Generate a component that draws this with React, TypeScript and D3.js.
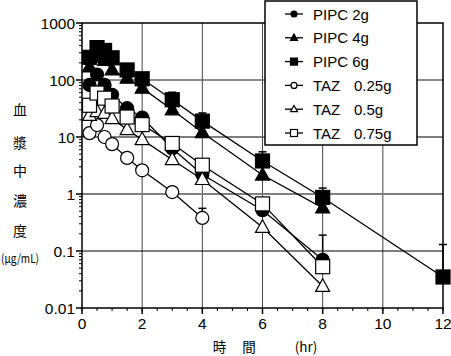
import React from 'react';
import * as d3 from 'd3';

const xTicks = [0, 2, 4, 6, 8, 10, 12];
const xMinorTicks = d3.range(0, 12.01, 0.5);
const yTicks = [0.01, 0.1, 1, 10, 100, 1000];
const yTickLabels = ['0.01', '0.1', '1', '10', '100', '1000'];

const times = [0.25, 0.5, 0.75, 1, 1.5, 2, 3, 4, 6, 8];
const times12 = [0.25, 0.5, 0.75, 1, 1.5, 2, 3, 4, 6, 8, 12];
const times4 = [0.25, 0.5, 0.75, 1, 1.5, 2, 3, 4];

const pipc2 = [82, 125, 82, 55, 32, 22, 6.3, 2.2, 0.52, 0.07];
const pipc4 = [170, 250, 220, 150, 108, 72, 30, 12, 2.15, 0.57];
const pipc6 = [250, 370, 330, 245, 150, 105, 45, 19, 3.8, 0.87, 0.035];
const taz025 = [11.7, 16.2, 10, 7.5, 4.3, 2.6, 1.08, 0.38];
const taz05 = [24, 28, 26, 21, 13.5, 9, 4.0, 1.8, 0.26, 0.024];
const taz075 = [36, 59, 48, 35, 22.4, 16.5, 7.7, 3.2, 0.67, 0.053];

const pipc2Sd = [0, 0, 0, 0, 0, 0, 0, 0, 0, 0.12];
const pipc6Sd = [0, 0, 0, 0, 0, 0, 16, 7.4, 1.7, 0.4, 0.095];
const taz025Sd = [0, 0, 0, 0, 0, 0, 0.25, 0.18];

const seriesNames = ['PIPC 2g', 'PIPC 4g', 'PIPC 6g', 'TAZ', 'TAZ', 'TAZ'];
const seriesDoses = ['', '', '', '0.25g', '0.5g', '0.75g'];

type Series = { name: string; dose: string; t: number[]; v: number[]; sd?: number[]; shape: string; filled: boolean };

const series: Series[] = [
  { name: seriesNames[0], dose: seriesDoses[0], t: times, v: pipc2, sd: pipc2Sd, shape: 'circle', filled: true },
  { name: seriesNames[1], dose: seriesDoses[1], t: times, v: pipc4, shape: 'triangle', filled: true },
  { name: seriesNames[2], dose: seriesDoses[2], t: times12, v: pipc6, sd: pipc6Sd, shape: 'square', filled: true },
  { name: seriesNames[3], dose: seriesDoses[3], t: times4, v: taz025, sd: taz025Sd, shape: 'circle', filled: false },
  { name: seriesNames[4], dose: seriesDoses[4], t: times, v: taz05, shape: 'triangle', filled: false },
  { name: seriesNames[5], dose: seriesDoses[5], t: times, v: taz075, shape: 'square', filled: false },
];

function Marker({ shape, filled, cx, cy, s }: { shape: string; filled: boolean; cx: number; cy: number; s: number }) {
  const fill = filled ? '#000' : '#fff';
  const common = { fill, stroke: '#000', strokeWidth: 1.2 };
  if (shape === 'circle') return <circle cx={cx} cy={cy} r={s / 2} {...common} />;
  if (shape === 'square') return <rect x={cx - s / 2} y={cy - s / 2} width={s} height={s} {...common} />;
  const h = s * 0.9;
  const pts = `${cx},${cy - h * 0.6} ${cx + s / 2},${cy + h * 0.4} ${cx - s / 2},${cy + h * 0.4}`;
  return <polygon points={pts} {...common} />;
}

export default function App() {
  const W = 451, H = 356;
  const x = d3.scaleLinear().domain([0, 12]).range([82, 443]);
  const y = d3.scaleLog().domain([0.01, 1000]).range([308, 23]);
  const line = d3.line<[number, number]>().x(d => x(d[0])).y(d => y(d[1]));

  const minorY: number[] = [];
  for (let e = -2; e < 3; e++) for (let k = 2; k <= 9; k++) minorY.push(k * Math.pow(10, e));

  const gridStyle: Record<string, { stroke: string; w: number }> = {
    '0.1': { stroke: '#000', w: 1 },
    '1': { stroke: '#808080', w: 2 },
    '10': { stroke: '#555', w: 1.3 },
    '100': { stroke: '#666', w: 1.5 },
  };

  const font = 'Liberation Sans, Arial, sans-serif';
  const cjk = 'Noto Sans CJK JP, sans-serif';
  const yTitle = ['血', '漿', '中', '濃', '度'];
  const yTitleY = [110, 143, 171, 201, 231];

  return (
    <svg width={W} height={H} style={{ position: 'absolute', left: 0, top: 0, background: '#fff' }}>
      <rect x={0} y={0} width={W} height={H} fill="#fff" />
      {/* grid */}
      {xTicks.slice(1, -1).map(t => (
        <line key={'gx' + t} x1={x(t)} x2={x(t)} y1={y(1000)} y2={y(0.01)} stroke="#444" strokeWidth={1} />
      ))}
      {yTicks.slice(1, -1).map(t => {
        const g = gridStyle[String(t)];
        return <line key={'gy' + t} x1={x(0)} x2={x(12)} y1={y(t)} y2={y(t)} stroke={g.stroke} strokeWidth={g.w} />;
      })}
      {/* axis ticks */}
      {minorY.map(t => (
        <line key={'my' + t} x1={x(0) - 3} x2={x(0)} y1={y(t)} y2={y(t)} stroke="#000" strokeWidth={1} />
      ))}
      {yTicks.map(t => (
        <line key={'My' + t} x1={x(0) - 6} x2={x(0)} y1={y(t)} y2={y(t)} stroke="#000" strokeWidth={1.5} />
      ))}
      {xMinorTicks.map(t => (
        <line key={'mx' + t} x1={x(t)} x2={x(t)} y1={y(0.01)} y2={y(0.01) + 3} stroke="#000" strokeWidth={1} />
      ))}
      {xTicks.map(t => (
        <line key={'Mx' + t} x1={x(t)} x2={x(t)} y1={y(0.01)} y2={y(0.01) + 6} stroke="#000" strokeWidth={1.5} />
      ))}
      {/* tick labels */}
      {yTicks.map((t, i) => (
        <text key={'yl' + t} x={75} y={y(t) + 5.5} textAnchor="end" fontFamily={font} fontSize={15.5}>{yTickLabels[i]}</text>
      ))}
      {xTicks.map(t => (
        <text key={'xl' + t} x={x(t)} y={329} textAnchor="middle" fontFamily={font} fontSize={15.5}>{t}</text>
      ))}
      {/* lines */}
      {series.map((s, i) => (
        <path key={'l' + i} d={line(s.t.map((t, j) => [t, s.v[j]]))!} fill="none" stroke="#000" strokeWidth={1.3} />
      ))}
      {/* error bars */}
      {series.map((s, i) =>
        (s.sd || []).map((sd, j) => {
          if (!sd) return null;
          const cx = x(s.t[j]);
          const y0 = y(s.v[j]);
          const y1 = y(s.v[j] + sd);
          return (
            <g key={'e' + i + '-' + j}>
              <line x1={cx} x2={cx} y1={y0} y2={y1} stroke="#000" strokeWidth={1.5} />
              <line x1={cx - 4} x2={cx + 4} y1={y1} y2={y1} stroke="#000" strokeWidth={1.5} />
            </g>
          );
        })
      )}
      {/* markers */}
      {series.map((s, i) =>
        s.t.map((t, j) => (
          <Marker key={'m' + i + '-' + j} shape={s.shape} filled={s.filled} cx={x(t)} cy={y(s.v[j])} s={s.shape === 'circle' ? 13 : 14} />
        ))
      )}
      {/* frame */}
      <rect x={x(0)} y={y(1000)} width={x(12) - x(0)} height={y(0.01) - y(1000)} fill="none" stroke="#000" strokeWidth={1.5} />
      {/* legend */}
      <rect x={265} y={1} width={152} height={144} fill="#fff" stroke="#000" strokeWidth={1.5} />
      {series.map((s, i) => {
        const ly = 14 + i * 23.8;
        return (
          <g key={'lg' + i}>
            <line x1={285} x2={303} y1={ly} y2={ly} stroke="#000" strokeWidth={1.3} />
            <Marker shape={s.shape} filled={s.filled} cx={294} cy={ly} s={s.shape === 'circle' ? 6 : 7} />
            <text x={313} y={ly + 5.5} fontFamily={font} fontSize={15}>{s.name}</text>
            {s.dose && <text x={354} y={ly + 5.5} fontFamily={font} fontSize={15}>{s.dose}</text>}
          </g>
        );
      })}
      {/* axis titles */}
      {yTitle.map((c, i) => (
        <text key={'yt' + i} x={20} y={yTitleY[i] + 5} textAnchor="middle" fontFamily={cjk} fontSize={14}>{c}</text>
      ))}
      <text x={1} y={263} fontFamily={cjk} fontSize={12} textLength={38} lengthAdjust="spacingAndGlyphs">(μg/mL)</text>
      <text x={219.5} y={352} textAnchor="middle" fontFamily={cjk} fontSize={13.5}>時</text>
      <text x={249} y={352} textAnchor="middle" fontFamily={cjk} fontSize={13.5}>間</text>
      <text x={306} y={352} textAnchor="middle" fontFamily={cjk} fontSize={13.5}>(hr)</text>
    </svg>
  );
}
